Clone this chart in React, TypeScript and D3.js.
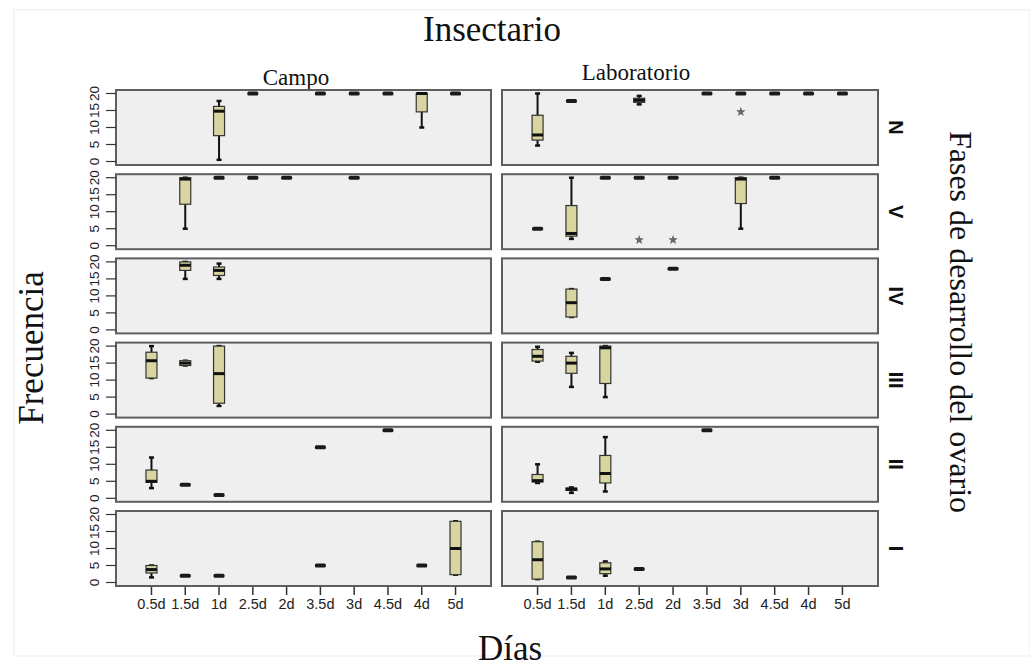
import React from "react";
import * as d3 from "d3";

// Category axes
const days = ["0.5d", "1.5d", "1d", "2.5d", "2d", "3.5d", "3d", "4.5d", "4d", "5d"];
const settings = ["Campo", "Laboratorio"];
const phases = ["N", "V", "IV", "III", "II", "I"];
const yTicks = [0, 5, 10, 15, 20];

// Box summaries: [phase, day, min, q1, median, q3, max]
const campoBoxes: [string, string, number, number, number, number, number][] = [
  ["N", "1d", 0.5, 7.6, 14.8, 16.2, 17.8],
  ["N", "4d", 10, 14.6, 20, 20, 20],
  ["V", "1.5d", 5, 12.2, 19.6, 20, 20],
  ["IV", "1.5d", 15, 17.5, 19, 20, 20],
  ["IV", "1d", 15, 16, 17.5, 18.5, 19.5],
  ["III", "0.5d", 10.6, 10.6, 15.7, 18.2, 20],
  ["III", "1.5d", 14.3, 14.3, 15, 15.7, 15.7],
  ["III", "1d", 2.4, 3.2, 11.9, 20, 20],
  ["II", "0.5d", 3, 4.7, 5, 8.3, 12],
  ["I", "0.5d", 1.5, 2.8, 3.8, 5, 5],
  ["I", "5d", 2.3, 2.3, 10, 18, 18],
];

const laboratorioBoxes: [string, string, number, number, number, number, number][] = [
  ["N", "0.5d", 4.7, 6.3, 7.8, 13.6, 20],
  ["N", "2.5d", 16.8, 17.4, 18, 18.6, 19.3],
  ["V", "1.5d", 2, 2.8, 3.6, 11.8, 20],
  ["V", "3d", 5, 12.4, 19.6, 20, 20],
  ["IV", "1.5d", 3.8, 3.8, 8, 12, 12],
  ["III", "0.5d", 15.4, 15.6, 17, 19, 19.8],
  ["III", "1.5d", 8, 12, 15, 17, 18],
  ["III", "1d", 5, 9, 19.5, 20, 20],
  ["II", "0.5d", 4.5, 4.8, 5.2, 7, 10],
  ["II", "1.5d", 1.6, 2.3, 2.7, 3, 3.2],
  ["II", "1d", 2, 4.5, 7.3, 12.6, 18],
  ["I", "0.5d", 1, 1, 6.7, 12, 12],
  ["I", "1d", 2, 2.6, 4, 5.8, 6.2],
];

// Groups whose observations are all the same value: [phase, day, value]
const campoSingles: [string, string, number][] = [
  ["N", "2.5d", 20], ["N", "3.5d", 20], ["N", "3d", 20], ["N", "4.5d", 20], ["N", "5d", 20],
  ["V", "1d", 20], ["V", "2.5d", 20], ["V", "2d", 20], ["V", "3d", 20],
  ["II", "1.5d", 4], ["II", "1d", 1], ["II", "3.5d", 15], ["II", "4.5d", 20],
  ["I", "1.5d", 2], ["I", "1d", 2], ["I", "3.5d", 5], ["I", "4d", 5],
];

const laboratorioSingles: [string, string, number][] = [
  ["N", "1.5d", 17.8], ["N", "3.5d", 20], ["N", "3d", 20], ["N", "4.5d", 20], ["N", "4d", 20], ["N", "5d", 20],
  ["V", "0.5d", 5], ["V", "1d", 20], ["V", "2.5d", 20], ["V", "2d", 20], ["V", "4.5d", 20],
  ["IV", "1d", 15], ["IV", "2d", 18],
  ["II", "3.5d", 20],
  ["I", "1.5d", 1.5], ["I", "2.5d", 4],
];

// Extreme values: [phase, day, value]
const laboratorioExtremes: [string, string, number][] = [
  ["N", "3d", 14.6],
  ["V", "2.5d", 1.7],
  ["V", "2d", 1.7],
];

const W = 1030;
const H = 667;
const colX: [number, number][] = [
  [116, 491],
  [502, 878],
];
const rowTop0 = 90;
const rowPitch = 84.2;
const rowH = 75;

const serif = "'Liberation Serif', 'Times New Roman', serif";
const sans = "'Liberation Sans', Arial, sans-serif";
const boxFill = "#d8d5a0";
const boxW = 11;

function starPath(cx: number, cy: number, r: number) {
  const pts: string[] = [];
  for (let i = 0; i < 10; i++) {
    const a = -Math.PI / 2 + (i * Math.PI) / 5;
    const rr = i % 2 === 0 ? r : r * 0.42;
    pts.push(`${cx + rr * Math.cos(a)},${cy + rr * Math.sin(a)}`);
  }
  return `M${pts.join("L")}Z`;
}

export default function App() {
  const xScales = colX.map(([a, b]) => d3.scalePoint<string>().domain(days).range([a, b]).padding(1.05));
  const yScales = phases.map((_, i) => {
    const top = rowTop0 + i * rowPitch;
    return d3.scaleLinear().domain([0, 20]).range([top + rowH - 3.5, top + 3.5]);
  });
  const boxesBy = [campoBoxes, laboratorioBoxes];
  const singlesBy = [campoSingles, laboratorioSingles];
  const extremesBy: [string, string, number][][] = [[], laboratorioExtremes];
  const lastRowBottom = rowTop0 + (phases.length - 1) * rowPitch + rowH;

  return (
    <svg width={W} height={H} style={{ position: "absolute", left: 0, top: 0, background: "#fff" }}>
      <rect x={14} y={10} width={W - 14} height={646} fill="none" stroke="#ebebeb" strokeWidth={1} />

      <text x={492} y={41} textAnchor="middle" fontFamily={serif} fontSize={35} fill="#111">
        Insectario
      </text>
      <text x={296} y={85} textAnchor="middle" fontFamily={serif} fontSize={23} fill="#111">
        {settings[0]}
      </text>
      <text x={636} y={80} textAnchor="middle" fontFamily={serif} fontSize={23} fill="#111">
        {settings[1]}
      </text>
      <text transform="translate(43,348) rotate(-90)" textAnchor="middle" fontFamily={serif} fontSize={35} fill="#111">
        Frecuencia
      </text>
      <text x={510} y={660} textAnchor="middle" fontFamily={serif} fontSize={35} fill="#111">
        Días
      </text>
      <text transform="translate(950,322) rotate(90)" textAnchor="middle" fontFamily={serif} fontSize={32} fill="#111">
        Fases de desarrollo del ovario
      </text>

      {phases.map((phase, ri) => {
        const y = yScales[ri];
        const top = rowTop0 + ri * rowPitch;
        return (
          <g key={phase}>
            {colX.map(([a, b], ci) => (
              <rect key={ci} x={a} y={top} width={b - a} height={rowH} fill="#efefef" stroke="#5e5e5e" strokeWidth={2} />
            ))}
            {/* y axis on the left column */}
            {yTicks.map((t) => (
              <g key={t}>
                <line x1={106} x2={116} y1={y(t)} y2={y(t)} stroke="#333" strokeWidth={1.2} />
                <text
                  transform={`translate(99,${y(t)}) rotate(-90)`}
                  textAnchor="middle"
                  fontFamily={sans}
                  fontSize={13.5}
                  fill="#222"
                >
                  {t}
                </text>
              </g>
            ))}
            <text
              transform={`translate(889,${top + rowH / 2}) rotate(90)`}
              textAnchor="middle"
              fontFamily={sans}
              fontWeight="bold"
              fontSize={20}
              fill="#111"
            >
              {phase}
            </text>

            {colX.map((_, ci) => {
              const x = xScales[ci];
              return (
                <g key={ci}>
                  {boxesBy[ci]
                    .filter((d) => d[0] === phase)
                    .map(([, day, mn, q1, md, q3, mx]) => {
                      const cx = x(day) as number;
                      return (
                        <g key={day}>
                          <line x1={cx} x2={cx} y1={y(mx)} y2={y(q3)} stroke="#111" strokeWidth={2} />
                          <line x1={cx} x2={cx} y1={y(q1)} y2={y(mn)} stroke="#111" strokeWidth={2} />
                          <line x1={cx - 2.5} x2={cx + 2.5} y1={y(mx)} y2={y(mx)} stroke="#111" strokeWidth={2.5} />
                          <line x1={cx - 2.5} x2={cx + 2.5} y1={y(mn)} y2={y(mn)} stroke="#111" strokeWidth={2.5} />
                          <rect
                            x={cx - boxW / 2}
                            y={y(q3)}
                            width={boxW}
                            height={Math.max(y(q1) - y(q3), 1)}
                            fill={boxFill}
                            stroke="#333"
                            strokeWidth={1.2}
                          />
                          <line x1={cx - boxW / 2} x2={cx + boxW / 2} y1={y(md)} y2={y(md)} stroke="#111" strokeWidth={3} />
                        </g>
                      );
                    })}
                  {singlesBy[ci]
                    .filter((d) => d[0] === phase)
                    .map(([, day, v]) => {
                      const cx = x(day) as number;
                      return <rect key={day} x={cx - 5.5} y={y(v) - 2} width={11} height={4} rx={1.5} fill="#1a1a1a" />;
                    })}
                  {extremesBy[ci]
                    .filter((d) => d[0] === phase)
                    .map(([, day, v]) => (
                      <path key={day} d={starPath(x(day) as number, y(v), 5)} fill="#666" />
                    ))}
                </g>
              );
            })}
          </g>
        );
      })}

      {/* x axes under the bottom row */}
      {xScales.map((x, ci) => (
        <g key={ci}>
          {days.map((d) => (
            <g key={d}>
              <line x1={x(d)} x2={x(d)} y1={lastRowBottom + 1} y2={lastRowBottom + 9} stroke="#333" strokeWidth={1.5} />
              <text x={x(d)} y={lastRowBottom + 23} textAnchor="middle" fontFamily={sans} fontSize={14.5} fill="#222">
                {d}
              </text>
            </g>
          ))}
        </g>
      ))}
    </svg>
  );
}
